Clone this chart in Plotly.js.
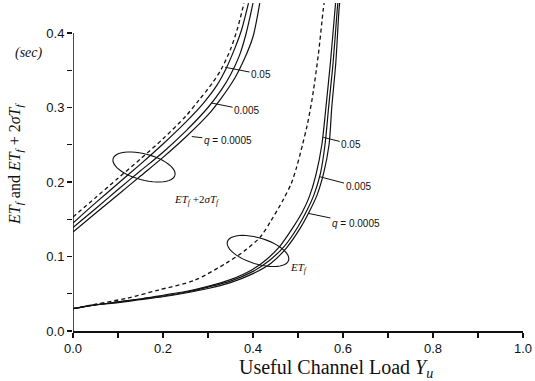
<!DOCTYPE html>
<html>
<head>
<meta charset="utf-8">
<script src="https://cdn.plot.ly/plotly-3.0.1.min.js"></script>
<style>html,body{margin:0;padding:0;background:#fff;}#chart{width:535px;height:381px;}</style>
</head>
<body>
<div id="chart"></div>
<script>
// ---- data ----
const qLabels = ['0.05', '0.005', '0.0005'];

// ET_f + 2 sigma T_f (upper group)
const upper05X   = [0, 0.05, 0.1, 0.15, 0.2, 0.25, 0.29, 0.32, 0.34, 0.36, 0.375, 0.39];
const upper05Y   = [0.145, 0.172, 0.198, 0.224, 0.251, 0.28, 0.306, 0.33, 0.352, 0.38, 0.405, 0.44];
const upper005X  = [0, 0.05, 0.1, 0.15, 0.2, 0.25, 0.3, 0.33, 0.35, 0.37, 0.385, 0.4];
const upper005Y  = [0.139, 0.164, 0.19, 0.215, 0.24, 0.268, 0.3, 0.324, 0.344, 0.37, 0.4, 0.44];
const upper0005X = [0, 0.05, 0.1, 0.15, 0.2, 0.25, 0.3, 0.33, 0.36, 0.38, 0.4, 0.415];
const upper0005Y = [0.133, 0.158, 0.183, 0.208, 0.233, 0.26, 0.29, 0.313, 0.34, 0.364, 0.395, 0.44];
const upperDashX = [0, 0.05, 0.1, 0.15, 0.2, 0.25, 0.28, 0.31, 0.33, 0.35, 0.365, 0.38];
const upperDashY = [0.153, 0.179, 0.205, 0.231, 0.258, 0.288, 0.31, 0.333, 0.352, 0.378, 0.405, 0.44];

// ET_f (lower group)
const lower05X   = [0, 0.05, 0.1, 0.15, 0.2, 0.25, 0.3, 0.35, 0.4, 0.43, 0.46, 0.49, 0.51, 0.525, 0.54, 0.553, 0.562, 0.572, 0.582, 0.585];
const lower05Y   = [0.030, 0.035, 0.039, 0.043, 0.048, 0.053, 0.060, 0.069, 0.083, 0.096, 0.114, 0.140, 0.160, 0.180, 0.210, 0.250, 0.300, 0.360, 0.430, 0.45];
const lower005X  = [0, 0.05, 0.1, 0.15, 0.2, 0.25, 0.3, 0.35, 0.4, 0.435, 0.47, 0.5, 0.52, 0.535, 0.55, 0.56, 0.568, 0.578, 0.587, 0.59];
const lower005Y  = [0.030, 0.035, 0.039, 0.043, 0.047, 0.052, 0.059, 0.067, 0.080, 0.094, 0.114, 0.140, 0.162, 0.182, 0.212, 0.250, 0.300, 0.360, 0.430, 0.45];
const lower0005X = [0, 0.05, 0.1, 0.15, 0.2, 0.25, 0.3, 0.35, 0.4, 0.44, 0.475, 0.505, 0.525, 0.542, 0.557, 0.569, 0.575, 0.584, 0.591, 0.594];
const lower0005Y = [0.030, 0.035, 0.038, 0.042, 0.046, 0.051, 0.057, 0.065, 0.077, 0.091, 0.112, 0.138, 0.160, 0.182, 0.212, 0.250, 0.300, 0.360, 0.430, 0.45];
const lowerDashX = [0, 0.05, 0.12, 0.19, 0.27, 0.34, 0.38, 0.416, 0.44, 0.467, 0.485, 0.497, 0.51, 0.52, 0.531, 0.545, 0.556, 0.56];
const lowerDashY = [0.030, 0.036, 0.044, 0.055, 0.068, 0.091, 0.107, 0.126, 0.148, 0.176, 0.198, 0.22, 0.25, 0.275, 0.31, 0.37, 0.431, 0.45];

const xTickVals = [0, 0.2, 0.4, 0.6, 0.8, 1.0];
const yTickVals = [0, 0.1, 0.2, 0.3, 0.4];

// ---- drawing ----
const ink = '#111';
const solid = {color: ink, width: 1.2, shape: 'spline', smoothing: 0.8};
const dashed = {color: ink, width: 1.3, dash: '4px,3px', shape: 'spline', smoothing: 0.8};
function tr(x, y, line, name) {
  return {type: 'scatter', mode: 'lines', x: x, y: y, line: line, name: name, hoverinfo: 'skip', showlegend: false};
}
const traces = [
  tr(upperDashX, upperDashY, dashed, 'ET+2σT dashed'),
  tr(upper05X, upper05Y, solid, 'ET+2σT q=' + qLabels[0]),
  tr(upper005X, upper005Y, solid, 'ET+2σT q=' + qLabels[1]),
  tr(upper0005X, upper0005Y, solid, 'ET+2σT q=' + qLabels[2]),
  tr(lowerDashX, lowerDashY, dashed, 'ET dashed'),
  tr(lower05X, lower05Y, solid, 'ET q=' + qLabels[0]),
  tr(lower005X, lower005Y, solid, 'ET q=' + qLabels[1]),
  tr(lower0005X, lower0005Y, solid, 'ET q=' + qLabels[2])
];

// plot geometry (pixels) used only for drawing the hand-drawn loops
const L = 73, R = 12, T = 3, B = 50, W = 535, H = 381;
const yTop = (H - T - B) / 745;
function px2d(px, py) { return [(px - L) / 450, (H - B - py) / 745]; }
function loopPath(cx, cy, a, b, angDeg) {
  const th = angDeg * Math.PI / 180;
  let d = '';
  const n = 48;
  for (let i = 0; i <= n; i++) {
    const t = 2 * Math.PI * i / n;
    const ex = a * Math.cos(t), ey = b * Math.sin(t);
    const px = cx + ex * Math.cos(th) - ey * Math.sin(th);
    const py = cy + ex * Math.sin(th) + ey * Math.cos(th);
    const p = px2d(px, py);
    d += (i === 0 ? 'M ' : ' L ') + p[0].toFixed(4) + ',' + p[1].toFixed(4);
  }
  return d;
}

const serif = 'Liberation Serif, Times New Roman, serif';
const sans = 'Liberation Sans, Arial, sans-serif';
function lab(x, y, text, ax, ay, size) {
  return {x: x, y: y, xref: 'x', yref: 'y', text: text, showarrow: true, arrowhead: 0,
    arrowwidth: 1, arrowcolor: ink, ax: ax, ay: ay, standoff: 0,
    font: {family: sans, size: size || 10, color: ink}};
}

const layout = {
  width: W, height: H,
  margin: {l: L, r: R, t: T, b: B},
  paper_bgcolor: '#fff', plot_bgcolor: '#fff',
  showlegend: false,
  font: {family: sans, color: ink},
  xaxis: {
    range: [0, 1], tickvals: xTickVals, tickformat: '.1f',
    showgrid: false, zeroline: false, showline: true, linewidth: 1.5, linecolor: ink,
    ticks: 'outside', ticklen: 5, tickwidth: 1.2, tickcolor: ink,
    minor: {tickvals: [0.1, 0.3, 0.5, 0.7, 0.9], ticks: 'outside', ticklen: 5, tickwidth: 1.2, tickcolor: ink},
    tickfont: {family: sans, size: 13, color: ink},
    title: {text: ''}
  },
  yaxis: {
    range: [0, yTop], tickvals: yTickVals, tickformat: '.1f',
    showgrid: false, zeroline: false, showline: false,
    ticks: 'outside', ticklen: 5, tickwidth: 1.2, tickcolor: ink,
    minor: {tickvals: [0.05, 0.15, 0.25, 0.35], ticks: 'outside', ticklen: 5, tickwidth: 1.2, tickcolor: ink},
    tickfont: {family: sans, size: 13, color: ink},
    title: {text: ''}
  },
  shapes: [
    {type: 'line', xref: 'x', yref: 'y', x0: 0, x1: 0, y0: 0, y1: 0.4, line: {color: ink, width: 1.5}},
    {type: 'path', xref: 'x', yref: 'y', path: loopPath(144, 167, 32, 13, 15), line: {color: ink, width: 1.1}},
    {type: 'path', xref: 'x', yref: 'y', path: loopPath(258, 251, 32, 13, 17), line: {color: ink, width: 1.1}}
  ],
  annotations: [
    // axis titles
    {xref: 'paper', yref: 'paper', x: (336 - L) / 450, y: -(368 - (H - B)) / (H - T - B), xanchor: 'center', yanchor: 'middle',
      showarrow: false, text: 'Useful Channel Load <i>Y<sub>u</sub></i>', font: {family: serif, size: 20, color: ink}},
    {xref: 'paper', yref: 'paper', x: -(L - 15) / 450, y: (H - B - 164) / (H - T - B), xanchor: 'center', yanchor: 'middle',
      textangle: -90, showarrow: false,
      text: '<i>ET<sub>f</sub></i> and <i>ET<sub>f</sub></i> + 2<i>σT<sub>f</sub></i>', font: {family: serif, size: 16, color: ink}},
    {xref: 'paper', yref: 'paper', x: -(L - 29) / 450, y: (H - B - 53) / (H - T - B), xanchor: 'center', yanchor: 'middle',
      showarrow: false, text: '<i>(sec)</i>', font: {family: serif, size: 14, color: ink}},
    // group labels
    {xref: 'x', yref: 'y', x: px2d(197, 200)[0], y: px2d(197, 200)[1], showarrow: false,
      text: '<i>ET<sub>f</sub></i> +2<i>σT<sub>f</sub></i>', font: {family: serif, size: 11, color: ink}},
    {xref: 'x', yref: 'y', x: px2d(299, 268)[0], y: px2d(299, 268)[1], showarrow: false,
      text: '<i>ET<sub>f</sub></i>', font: {family: serif, size: 11, color: ink}},
    // q labels, upper group
    lab(0.338, 0.354, qLabels[0], 36, 7),
    lab(0.308, 0.306, qLabels[1], 35, 7),
    lab(0.264, 0.261, '<i>q</i> = ' + qLabels[2], 36, 4),
    // q labels, lower group
    lab(0.556, 0.26, qLabels[0], 28, 7),
    lab(0.549, 0.207, qLabels[1], 38, 10),
    lab(0.522, 0.158, '<i>q</i> = ' + qLabels[2], 48, 10)
  ]
};

Plotly.newPlot('chart', traces, layout, {staticPlot: true, displayModeBar: false});
</script>
</body>
</html>
